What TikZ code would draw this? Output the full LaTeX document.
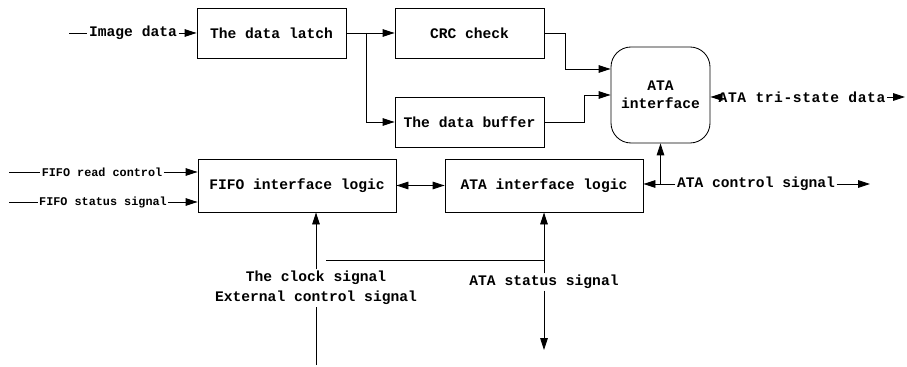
\documentclass[tikz,border=0pt]{standalone}
\usepackage{fontspec}
\setmainfont{Liberation Mono}
\usetikzlibrary{arrows.meta}
\tikzset{
	blk/.style={draw,line width=0.6pt,inner sep=0pt,align=center,
		font=\fontsize{10.4}{13}\selectfont\bfseries},
	lbl/.style={inner sep=1pt,align=center,font=\fontsize{10.4}{14.2}\selectfont\bfseries},
	slbl/.style={inner sep=1pt,font=\fontsize{8.4}{10}\selectfont\bfseries},
	sig/.style={line width=0.6pt,-{Triangle[length=3mm,width=1.9mm]}},
	dsig/.style={line width=0.6pt,{Triangle[length=3mm,width=1.9mm]}-{Triangle[length=3mm,width=1.9mm]}},
	wire/.style={line width=0.6pt},
}
\begin{document}
\begin{tikzpicture}[x=0.25mm,y=-0.25mm]
		\useasboundingbox (0,0) rectangle (907,367);
		% blocks
		\node[blk,minimum width=37.25mm,minimum height=12.5mm] (latch) at (271.5,33) {The data latch};
		\node[blk,minimum width=37.25mm,minimum height=12.5mm] (crc) at (469.5,33) {CRC check};
		\node[blk,minimum width=37.25mm,minimum height=12.5mm] (buf) at (469.5,122) {The data buffer};
		\node[blk,rounded corners=5mm,minimum width=24.75mm,minimum height=24mm] (ata) at (660.5,95) {ATA\\interface};
		\node[blk,minimum width=49.5mm,minimum height=13.25mm] (fifo) at (297,185.5) {FIFO interface logic};
		\node[blk,minimum width=49.5mm,minimum height=13.25mm] (atalogic) at (544,185.5) {ATA interface logic};
		% signal labels
		\node[lbl] (img) at (133,33) {Image data};
		\node[slbl] (rd) at (102,172) {FIFO read control};
		\node[slbl] (st) at (103,202) {FIFO status signal};
		\node[lbl,font=\fontsize{10.4}{13}\selectfont\bfseries\addfontfeature{LetterSpace=4}] (tri) at (802,97) {ATA tri-state data};
		\node[lbl] (ctrl) at (756,184) {ATA control signal};
		\node[lbl] (clk) at (316,288) {The clock signal\\External control signal};
		\node[lbl] (stat) at (544,282) {ATA status signal};
		\coordinate (imgin) at (69,33);
		\coordinate (rdin) at (9,172);
		\coordinate (stin) at (9,202);
		\coordinate (split) at (366,33);
		\coordinate (triout) at (905,97);
		\coordinate (ctrlout) at (870,184);
		\coordinate (clkin) at (316,365);
		\coordinate (clkbr) at (326,260);
		\coordinate (statout) at (544,350);
		% data path
		\draw[wire] (imgin) -- (img.west);
		\draw[sig] (img.east) -- (latch.west |- img.east);
		\draw[sig] (latch.east) -- (crc.west);
		\draw[sig] (split) |- (buf.west);
		\draw[sig] (crc.east) -- (565,33) -- (565,69) -- (ata.west |- 0,69);
		\draw[sig] (buf.east) -- (584,122) -- (584,95) -- (ata.west);
		\draw[sig] (tri.west) -- (ata.east |- tri.west);
		\draw[sig] (tri.east) -- (triout);
		% control path
		\draw[wire] (rdin) -- (rd.west);
		\draw[sig] (rd.east) -- (fifo.west |- rd.east);
		\draw[wire] (stin) -- (st.west);
		\draw[sig] (st.east) -- (fifo.west |- st.east);
		\draw[dsig] (fifo.east) -- (atalogic.west);
		\draw[sig] (ctrl.west) -- (atalogic.east |- ctrl.west);
		\draw[sig] (ata.south |- ctrl.west) -- (ata.south);
		\draw[sig] (ctrl.east) -- (ctrlout);
		\draw[wire] (clkin) -- (clk.south);
		\draw[sig] (clk.north) -- (clk.north |- fifo.south);
		\draw[wire] (clkbr) -- (clkbr -| atalogic.south);
		\draw[sig] (stat.north) -- (atalogic.south);
		\draw[sig] (stat.south) -- (statout);
	\end{tikzpicture}
\end{document}
